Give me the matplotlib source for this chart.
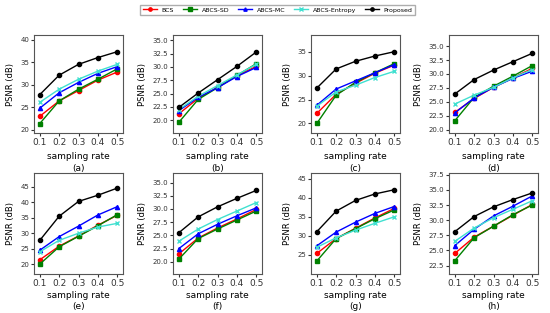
import matplotlib.pyplot as plt

rates = [0.1, 0.2, 0.3, 0.4, 0.5]
methods = ["BCS", "ABCS-SD", "ABCS-MC", "ABCS-Entropy", "Proposed"]
panel_labels = ["(a)", "(b)", "(c)", "(d)", "(e)", "(f)", "(g)", "(h)"]

# PSNR values per panel, order follows methods
psnr_a = [[23.0, 26.4, 28.7, 31.0, 32.8],
          [21.4, 26.4, 29.0, 31.2, 33.5],
          [24.8, 28.2, 30.5, 32.5, 34.0],
          [26.1, 29.0, 31.2, 33.0, 34.5],
          [27.8, 32.1, 34.5, 36.0, 37.3]]
psnr_b = [[21.2, 24.1, 26.2, 28.3, 30.1],
          [19.6, 23.9, 26.1, 28.4, 30.6],
          [21.8, 24.3, 26.1, 28.2, 29.9],
          [22.0, 24.5, 26.5, 28.5, 30.5],
          [22.4, 25.1, 27.6, 30.1, 32.8]]
psnr_c = [[22.1, 26.1, 28.4, 30.5, 32.2],
          [20.0, 25.9, 28.6, 30.6, 32.5],
          [23.8, 27.2, 28.9, 30.6, 32.3],
          [23.6, 26.6, 28.0, 29.6, 30.9],
          [27.4, 31.4, 33.0, 34.1, 35.0]]
psnr_d = [[23.1, 25.6, 27.6, 29.3, 31.0],
          [21.6, 25.8, 27.8, 29.6, 31.5],
          [23.0, 25.7, 27.6, 29.2, 30.5],
          [24.6, 26.2, 27.6, 29.3, 30.8],
          [26.4, 29.0, 30.7, 32.2, 33.7]]
psnr_e = [[21.4, 25.8, 29.1, 32.6, 35.8],
          [20.0, 25.6, 29.0, 32.4, 36.0],
          [24.5, 28.9, 32.3, 35.9, 38.6],
          [24.0, 27.7, 30.0, 32.0, 33.2],
          [27.7, 35.5, 40.3, 42.3, 44.6]]
psnr_f = [[21.5, 24.5, 26.4, 28.1, 29.9],
          [20.5, 24.4, 26.2, 27.9, 29.6],
          [22.5, 25.3, 27.1, 28.7, 30.2],
          [23.9, 26.2, 28.0, 29.6, 31.2],
          [25.5, 28.5, 30.4, 32.0, 33.5]]
psnr_g = [[25.4, 29.3, 32.0, 34.7, 37.2],
          [23.4, 29.3, 31.9, 34.5, 36.8],
          [27.4, 31.0, 33.6, 35.9, 37.7],
          [27.0, 29.5, 31.5, 33.3, 35.0],
          [31.1, 36.5, 39.3, 41.0, 42.1]]
psnr_h = [[24.5, 27.2, 29.0, 30.8, 32.6],
          [23.3, 27.1, 29.0, 30.9, 32.5],
          [25.8, 28.5, 30.7, 32.3, 34.0],
          [26.5, 28.7, 30.4, 31.8, 33.2],
          [28.1, 30.6, 32.2, 33.4, 34.5]]
panels = [psnr_a, psnr_b, psnr_c, psnr_d, psnr_e, psnr_f, psnr_g, psnr_h]

y_limits = [(19.3, 41), (17.6, 36), (18, 38.5), (19.4, 37),
            (16.8, 49.5), (17.7, 36.8), (20, 46.5), (21.1, 37.8)]
y_ticks = [[20, 25, 30, 35, 40],
           [20.0, 22.5, 25.0, 27.5, 30.0, 32.5, 35.0],
           [20, 25, 30, 35],
           [20.0, 22.5, 25.0, 27.5, 30.0, 32.5, 35.0],
           [20, 25, 30, 35, 40, 45],
           [20.0, 22.5, 25.0, 27.5, 30.0, 32.5, 35.0],
           [25, 30, 35, 40, 45],
           [22.5, 25.0, 27.5, 30.0, 32.5, 35.0, 37.5]]
decimal_ticks = [False, True, False, True, False, True, False, True]

colors = ["red", "green", "blue", "turquoise", "black"]
markers = ["o", "s", "^", "x", "o"]

fig = plt.figure(figsize=(5.5, 3.13), dpi=100)
lefts = [34, 173, 311, 449]
width = 89
rows = [(35, 133), (173, 274)]

lines = []
for i, data in enumerate(panels):
    top, bottom = rows[i // 4]
    left = lefts[i % 4]
    ax = fig.add_axes([left / 550, 1 - bottom / 313, width / 550, (bottom - top) / 313])
    for k in range(len(methods)):
        ln, = ax.plot(rates, data[k], color=colors[k], marker=markers[k],
                      markersize=3, linewidth=1, label=methods[k])
        if i == 0:
            lines.append(ln)
    ax.set_xlim(0.07, 0.53)
    ax.set_xticks(rates)
    ax.set_xticklabels(["0.1", "0.2", "0.3", "0.4", "0.5"], fontsize=6.5)
    ax.set_ylim(*y_limits[i])
    ax.set_yticks(y_ticks[i])
    if decimal_ticks[i]:
        ax.set_yticklabels([f"{t:.1f}" for t in y_ticks[i]], fontsize=5)
    else:
        ax.set_yticklabels([str(t) for t in y_ticks[i]], fontsize=5)
    ax.tick_params(length=2, pad=1.5, colors="#333333")
    for s in ax.spines.values():
        s.set_color("#555555")
        s.set_linewidth(0.8)
    ax.set_ylabel("PSNR (dB)", fontsize=6)
    ax.set_xlabel("sampling rate\n" + panel_labels[i], fontsize=6.5,
                  labelpad=4 if i < 4 else 2, linespacing=1.3)

fig.legend(lines, methods, loc="upper center", bbox_to_anchor=(0.505, 0.995),
           ncol=5, fontsize=4.5, frameon=True, handlelength=2.2, columnspacing=1.4,
           edgecolor="#999999", fancybox=False, borderpad=0.4, markerscale=0.8)

plt.savefig("out.png", dpi=100)
